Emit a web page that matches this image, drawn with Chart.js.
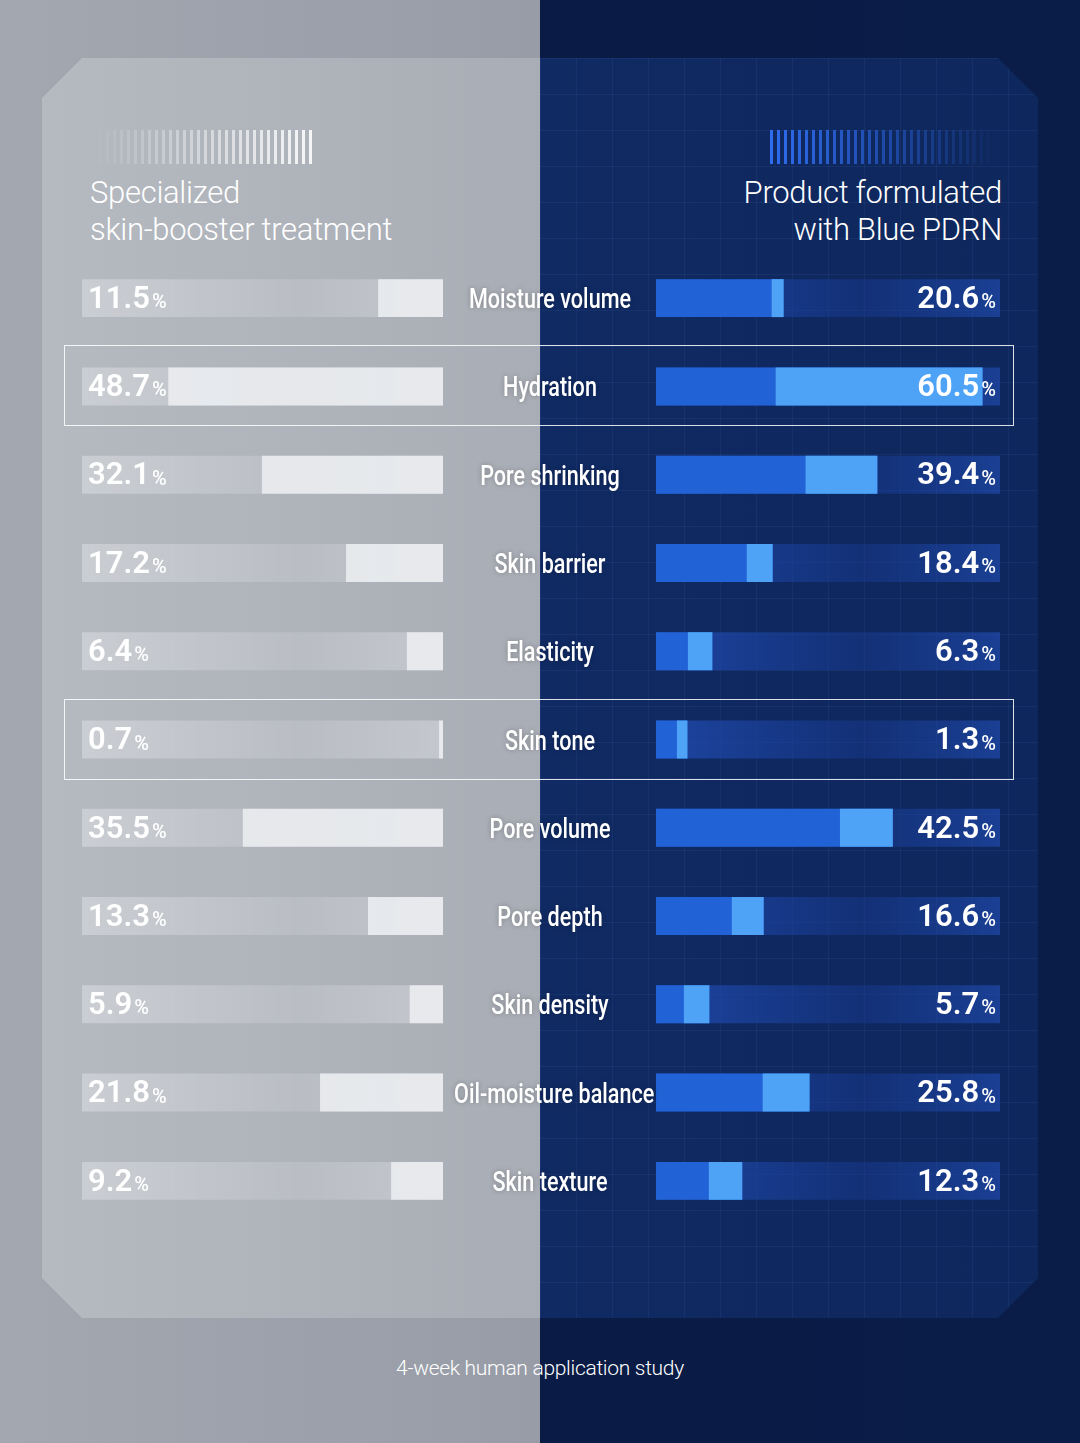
<!DOCTYPE html>
<html>
<head>
<meta charset="utf-8">
<script src="https://cdn.jsdelivr.net/npm/chart.js@4.4.1/dist/chart.umd.min.js"></script>
<style>
  html, body { margin: 0; padding: 0; }
  body {
    width: 1080px; height: 1443px; position: relative; overflow: hidden;
    background: linear-gradient(90deg, #a2a7b0 0%, #979ca7 50%, #0a1c45 50%, #0a1d48 100%);
    font-family: Roboto, "Noto Sans", sans-serif;
  }
  .panel {
    position: absolute; left: 42px; top: 58px; width: 996px; height: 1260px;
    clip-path: polygon(40px 0, 956px 0, 996px 40px, 996px 1220px, 956px 1260px, 40px 1260px, 0 1220px, 0 40px);
    background: linear-gradient(90deg, #b5b9c0 0%, #a9adb5 50%, #102a63 50%, #0e275c 100%);
  }
  .grid {
    position: absolute; left: 498px; top: 0; width: 498px; height: 1260px;
    background-image:
      linear-gradient(rgba(120,160,255,0.07) 1px, transparent 1px),
      linear-gradient(90deg, rgba(120,160,255,0.07) 1px, transparent 1px);
    background-size: 36px 36px;
  }
  .head { position: absolute; color: #fff; font-size: 31px; font-weight: 300; line-height: 37px; letter-spacing: -0.3px; }
  .bars { position: absolute; height: 34px; }
  canvas { position: absolute; }
  .cat {
    position: absolute; left: 430px; width: 240px; text-align: center; color: #fff;
    font-size: 27px; font-weight: 500; transform: scaleX(0.8); white-space: nowrap;
    text-shadow: 0 0 6px rgba(0,0,0,0.25);
  }
  .box { position: absolute; left: 64px; width: 948px; height: 79px; border: 1.5px solid rgba(255,255,255,0.85); }
  .foot { position: absolute; top: 1356px; width: 1080px; text-align: center; color: #fff; font-size: 21px; font-weight: 300; letter-spacing: -0.3px; }
</style>
</head>
<body>
<div class="panel"><div class="grid"></div></div>
<div class="bars" style="left:92px;top:130px;width:223px;background:repeating-linear-gradient(90deg, rgba(255,255,255,0.9) 0 3px, transparent 3px 7px);-webkit-mask-image:linear-gradient(90deg, transparent, #000);"></div>
<div class="bars" style="left:770px;top:130px;width:230px;background:repeating-linear-gradient(90deg, #2f6df0 0 3px, transparent 3px 7px);-webkit-mask-image:linear-gradient(90deg, #000, transparent);"></div>
<div class="head" style="left:90px;top:174px;">Specialized<br>skin-booster treatment</div>
<div class="head" style="right:78px;top:174px;text-align:right;">Product formulated<br>with Blue PDRN</div>
<canvas id="left"></canvas>
<canvas id="right"></canvas>
<div id="labels"></div>
<div class="foot">4-week human application study</div>

<script>
const categories = ['Moisture volume', 'Hydration', 'Pore shrinking', 'Skin barrier', 'Elasticity', 'Skin tone',
  'Pore volume', 'Pore depth', 'Skin density', 'Oil-moisture balance', 'Skin texture'];
const boosterValues = [11.5, 48.7, 32.1, 17.2, 6.4, 0.7, 35.5, 13.3, 5.9, 21.8, 9.2];
const pdrnValues = [20.6, 60.5, 39.4, 18.4, 6.3, 1.3, 42.5, 16.6, 5.7, 25.8, 12.3];
// where the bright part of each blue bar begins
const pdrnHighlightStart = [18.2, 19, 25, 13.2, 1.4, -0.8, 31.9, 10.2, 0.6, 16.4, 5.6];
const highlightRows = ['Hydration', 'Skin tone'];

const TOP = 254, HEIGHT = 971;
const leftBox = { x: 82, w: 361 };
const rightBox = { x: 656, w: 344 };
const RIGHT_MIN = -5, RIGHT_MAX = 64;

function setupCanvas(id, box) {
  const c = document.getElementById(id);
  c.style.left = box.x + 'px'; c.style.top = TOP + 'px';
  c.style.width = box.w + 'px'; c.style.height = HEIGHT + 'px';
  c.width = box.w; c.height = HEIGHT;
  return c;
}

function valueLabels(values, align) {
  return {
    id: 'valueLabels',
    afterDatasetsDraw(chart) {
      const ctx = chart.ctx;
      const y = chart.scales.y;
      ctx.save();
      ctx.fillStyle = '#fff';
      ctx.textBaseline = 'middle';
      values.forEach((v, i) => {
        const py = y.getPixelForValue(i) + 2;
        const num = v.toFixed(1);
        ctx.font = '600 31px Roboto, sans-serif';
        const wNum = ctx.measureText(num).width;
        ctx.font = '500 20px Roboto, sans-serif';
        const wPct = ctx.measureText('%').width;
        let x = align === 'left' ? 6 : chart.width - 4 - wNum - wPct - 2;
        ctx.font = '600 31px Roboto, sans-serif';
        ctx.textAlign = 'left';
        ctx.fillText(num, x, py);
        ctx.font = '500 20px Roboto, sans-serif';
        ctx.fillText('%', x + wNum + 2, py + 3);
      });
      ctx.restore();
    }
  };
}

const common = {
  responsive: false,
  animation: false,
  indexAxis: 'y',
  plugins: { legend: { display: false }, tooltip: { enabled: false } },
  layout: { padding: 0 }
};
const barStyle = { grouped: false, categoryPercentage: 1, barPercentage: 0.43, borderWidth: 0, borderSkipped: false };

const leftChart = new Chart(setupCanvas('left', leftBox), {
  type: 'bar',
  data: {
    labels: categories,
    datasets: [
      { ...barStyle, data: boosterValues, backgroundColor: 'rgba(236,238,241,0.88)', order: 1 },
      { ...barStyle, data: categories.map(() => 64), order: 2,
        backgroundColor: (ctx) => {
          const a = ctx.chart.chartArea;
          if (!a) return 'rgba(255,255,255,0.25)';
          const g = ctx.chart.ctx.createLinearGradient(a.left, 0, a.right, 0);
          g.addColorStop(0, 'rgba(255,255,255,0.30)');
          g.addColorStop(0.6, 'rgba(255,255,255,0.14)');
          g.addColorStop(1, 'rgba(255,255,255,0.30)');
          return g;
        } }
    ]
  },
  options: { ...common, scales: {
    x: { min: 0, max: 64, reverse: true, display: false },
    y: { display: false }
  } },
  plugins: [valueLabels(boosterValues, 'left')]
});

const rightChart = new Chart(setupCanvas('right', rightBox), {
  type: 'bar',
  data: {
    labels: categories,
    datasets: [
      { ...barStyle, data: pdrnValues.map((v, i) => [Math.max(pdrnHighlightStart[i], RIGHT_MIN), v]), backgroundColor: '#4ea3f7', order: 1 },
      { ...barStyle, data: pdrnValues.map(v => [RIGHT_MIN, v]), backgroundColor: '#2163d6', order: 2 },
      { ...barStyle, data: categories.map(() => [RIGHT_MIN, RIGHT_MAX]), order: 3,
        backgroundColor: (ctx) => {
          const a = ctx.chart.chartArea;
          if (!a) return 'rgba(30,70,170,0.5)';
          const g = ctx.chart.ctx.createLinearGradient(a.left, 0, a.right, 0);
          g.addColorStop(0, 'rgba(35,80,185,0.75)');
          g.addColorStop(0.6, 'rgba(25,60,150,0.45)');
          g.addColorStop(1, 'rgba(35,80,185,0.6)');
          return g;
        } }
    ]
  },
  options: { ...common, scales: {
    x: { min: RIGHT_MIN, max: RIGHT_MAX, display: false },
    y: { display: false }
  } },
  plugins: [valueLabels(pdrnValues, 'right')]
});

// center category labels and highlight boxes, placed from the chart's own y scale
const holder = document.getElementById('labels');
categories.forEach((c, i) => {
  const py = TOP + leftChart.scales.y.getPixelForValue(i);
  const d = document.createElement('div');
  d.className = 'cat';
  d.textContent = c;
  d.style.top = (py - 15) + 'px';
  holder.appendChild(d);
  if (highlightRows.includes(c)) {
    const b = document.createElement('div');
    b.className = 'box';
    b.style.top = (py - 41) + 'px';
    holder.appendChild(b);
  }
});
</script>
</body>
</html>
